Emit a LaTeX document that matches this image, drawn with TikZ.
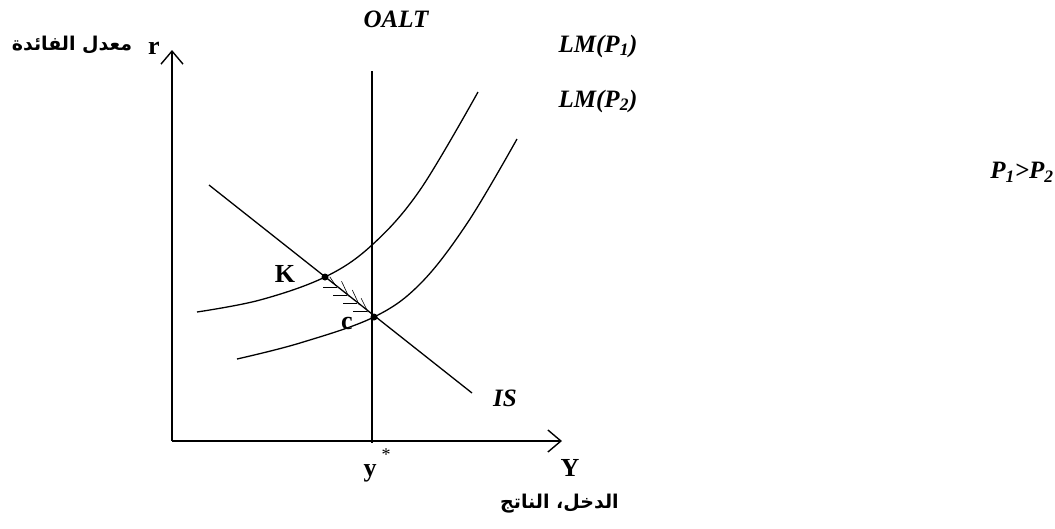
\documentclass[tikz,border=0pt]{standalone}
\usepackage{fontspec}
\setmainfont{Liberation Serif}
\newfontfamily\arabicfont[Script=Arabic]{DejaVu Sans}
\TeXXeTstate=1
\usetikzlibrary{arrows.meta,calc}
\begin{document}
\begin{tikzpicture}[x=1pt,y=-1pt,
  axisline/.style={line width=1.4pt,-{Straight Barb[length=13pt,width=22pt,line width=1.4pt]}},
  curveline/.style={line width=1.3pt},
  vline/.style={line width=2pt},
  hatchline/.style={line width=0.6pt},
  lbl/.style={inner sep=0pt,font=\fontsize{26}{28}\selectfont\bfseries},
  ilbl/.style={inner sep=0pt,font=\fontsize{25}{27}\selectfont\bfseries\itshape},
  arlbl/.style={inner sep=0pt,font=\fontsize{19}{21}\selectfont\arabicfont\bfseries},
  dot/.style={circle,fill=black,inner sep=0pt,minimum size=7pt}]
\useasboundingbox (0,0) rectangle (1055,528);
% axes
\coordinate (O) at (172,441);
\coordinate (ytip) at (172,50);
\coordinate (xtip) at (562,441);
\draw[axisline] (O) -- (ytip);
\draw[axisline] (O) -- (xtip);
% OALT vertical
\coordinate (otop) at (372,71);
\coordinate (obot) at (372,443);
\draw[vline] (otop) -- (obot);
% IS line
\coordinate (ISa) at (209,185);
\coordinate (ISb) at (472,393);
\draw[curveline] (ISa) -- (ISb);
% points
\coordinate (K) at (325,277);
\coordinate (C) at (374,317);
% LM curves
\draw[curveline] plot[smooth,tension=0.6] coordinates {(197,312) (260,300) (325,277) (372,245) (420,190) (478,92)};
\draw[curveline] plot[smooth,tension=0.6] coordinates {(237,359) (300,343) (374,317) (421,283) (468,222) (517,139)};
% hatch between K and c
\foreach \t in {0.25,0.45,0.65,0.85}{
  \draw[hatchline] ($(K)!\t!(C)$) -- ++(-14,0);
}
\foreach \t/\dx/\dy in {0.22/-6/-9,0.48/-7/-15,0.70/-7/-15,0.88/-7/-14}{
  \draw[hatchline] ($(K)!\t!(C)$) -- ++(\dx,\dy);
}
\node[dot] (Kd) at (K) {};
\node[dot] (Cd) at (C) {};
% labels
\node[lbl] (rl) at (154,48) {r};
\node[arlbl] (rar) at (72,45) {\beginR معدل الفائدة\endR};
\node[ilbl] (oalt) at (396,19) {OALT};
\node[ilbl] (lm1) at (598,46) {LM(P\textsubscript{1})};
\node[ilbl] (lm2) at (598,101) {LM(P\textsubscript{2})};
\node[ilbl] (pp) at (1022,172) {P\textsubscript{1}>P\textsubscript{2}};
\node[lbl] (kl) at (285,274) {K};
\node[lbl] (cl) at (347,323) {c};
\node[ilbl] (isl) at (505,398) {IS};
\node[lbl] (ys) at (370,473) {y};
\node[inner sep=0pt,font=\fontsize{18}{20}\selectfont] (star) at (386,455) {*};
\node[lbl] (Yl) at (570,468) {Y};
\node[arlbl,anchor=west] (yar) at (500,504) {\beginR الدخل، الناتج\endR};
\end{tikzpicture}
\end{document}
